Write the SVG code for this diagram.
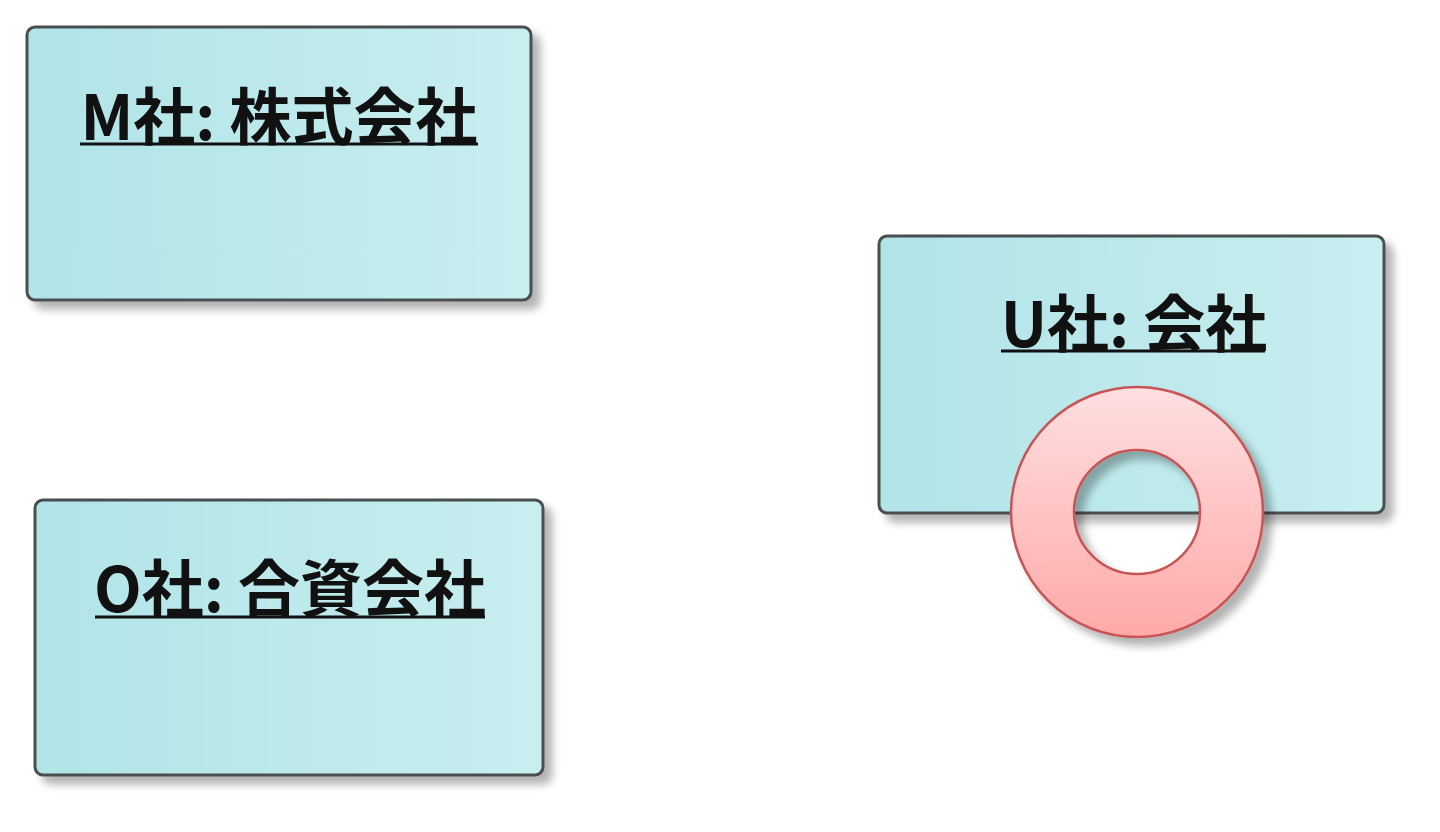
<svg xmlns="http://www.w3.org/2000/svg" width="1440" height="832" viewBox="0 0 1440 832">
<style>
.box{fill:url(#boxg);stroke:#4a4f50;stroke-width:3}
.lbl{font-family:"Noto Sans CJK JP","Noto Sans",sans-serif;font-weight:bold;font-size:62px;fill:#111;text-anchor:middle}
.ul{stroke:#111;stroke-width:3}
.ring{fill:url(#ringg);stroke:#c85555;stroke-width:2.5;fill-rule:evenodd}
</style>
<defs>
<linearGradient id="boxg" x1="0" y1="0" x2="1" y2="0">
<stop offset="0" stop-color="#b1e4e7"/>
<stop offset="1" stop-color="#c8eef0"/>
</linearGradient>
<linearGradient id="ringg" x1="0" y1="0" x2="0" y2="1">
<stop offset="0" stop-color="#ffdfe0"/>
<stop offset="1" stop-color="#ffa9a9"/>
</linearGradient>
<filter id="sh" x="-10%" y="-10%" width="130%" height="130%">
<feGaussianBlur in="SourceAlpha" stdDeviation="4"/>
<feOffset dx="8" dy="8" result="b"/>
<feComponentTransfer><feFuncA type="linear" slope="0.3"/></feComponentTransfer>
<feMerge><feMergeNode/><feMergeNode in="SourceGraphic"/></feMerge>
</filter>
</defs>
<rect width="1440" height="832" fill="#ffffff"/>
<g id="connectors"/>
<g id="node-m">
<rect class="box" x="27" y="27" width="504" height="273" rx="8" filter="url(#sh)"/>
<text class="lbl" x="279" y="140">M社: 株式会社</text>
<line class="ul" x1="80" y1="144" x2="478" y2="144"/>
</g>
<g id="node-o">
<rect class="box" x="35" y="500" width="508" height="275" rx="8" filter="url(#sh)"/>
<text class="lbl" x="290" y="612">O社: 合資会社</text>
<line class="ul" x1="95" y1="617" x2="485" y2="617"/>
</g>
<g id="node-u">
<rect class="box" x="879" y="236" width="505" height="277" rx="8" filter="url(#sh)"/>
<text class="lbl" x="1134" y="347">U社: 会社</text>
<line class="ul" x1="1001" y1="351" x2="1265" y2="351"/>
</g>
<g id="node-ring">
<path class="ring" filter="url(#sh)" d="M1011,512 a126,125 0 1,0 252,0 a126,125 0 1,0 -252,0 Z M1074,512 a63,62 0 1,0 126,0 a63,62 0 1,0 -126,0 Z"/>
</g>
</svg>
